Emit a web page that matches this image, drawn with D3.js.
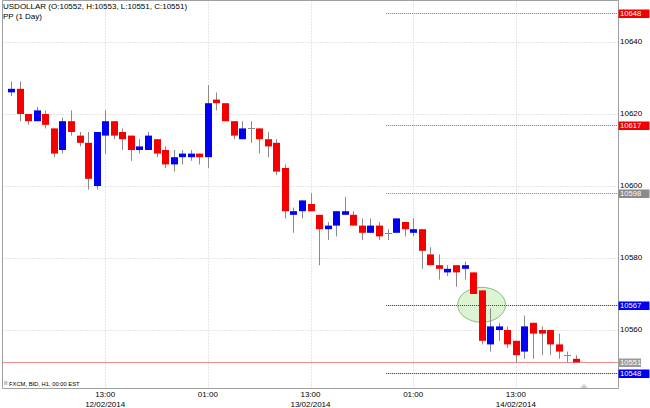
<!DOCTYPE html>
<html><head><meta charset="utf-8">
<script src="https://cdn.jsdelivr.net/npm/d3@7"></script>
<style>
html,body{margin:0;padding:0;background:#fff;}
svg{display:block;font-family:"Liberation Sans",Arial,Helvetica,sans-serif;}
</style></head>
<body>
<svg id="c" width="650" height="408"></svg>
<script>
// ---- data ----
const title = "USDOLLAR (O:10552, H:10553, L:10551, C:10551)";
const subtitle = "PP (1 Day)";
const footnote = "FXCM, BID, H1, 00:00 EST";
const firstBar = "2014-02-12T02:00";   // hourly bars
const open  = [10626,10627,10620,10618,10620,10616,10610,10618,10614,10612,10600,10614,10618,10615,10614,10610,10610,10613,10610,10606,10608,10608,10609,10608,10624,10623,10618,10613,10616,10616,10613,10612,10605,10592,10593,10595,10592,10588,10589,10592,10592,10589,10587,10589,10587,10587,10590,10587,10588,10581,10578,10576,10578,10577,10576,10571,10556,10560,10560,10557,10554,10562,10560,10560,10556,10553,10552];
const high  = [10629,10629,10620,10622,10621,10616,10619,10621,10615,10615,10615,10621,10618,10616,10614,10613,10615,10613,10611,10610,10610,10610,10609,10628,10626,10623,10618,10618,10618,10616,10615,10613,10606,10594,10596,10598,10592,10590,10593,10597,10593,10591,10591,10590,10588,10591,10590,10591,10588,10583,10581,10578,10578,10579,10576,10571,10566,10562,10561,10557,10564,10562,10561,10560,10559,10554,10553];
const low   = [10625,10618,10617,10618,10616,10608,10609,10614,10611,10599,10599,10609,10613,10610,10607,10609,10610,10608,10605,10604,10606,10607,10606,10605,10621,10618,10613,10613,10612,10609,10608,10603,10591,10587,10591,10593,10578,10585,10586,10592,10589,10585,10587,10585,10585,10587,10586,10586,10577,10578,10574,10575,10572,10574,10570,10556,10554,10557,10555,10551,10552,10552,10553,10553,10552,10551,10551];
const close = [10627,10620,10618,10621,10617,10609,10618,10615,10612,10602,10615,10618,10614,10613,10610,10611,10614,10609,10606,10608,10609,10609,10608,10623,10623,10618,10614,10616,10616,10613,10611,10604,10593,10593,10596,10593,10588,10589,10593,10593,10589,10587,10589,10586,10587,10591,10588,10588,10582,10578,10577,10577,10576,10578,10570,10557,10561,10561,10556,10553,10561,10559,10559,10556,10554,10553,10551];
const yTicks = [10560, 10580, 10600, 10620, 10640];
const xTicks = ["2014-02-12T13:00","2014-02-13T01:00","2014-02-13T13:00","2014-02-14T01:00","2014-02-14T13:00"];
const pivotLevels = [10648, 10617, 10598, 10567, 10548];
const pivotStart = "2014-02-13T21:51";
const lastPrice = 10551;
const highlight = {time:"2014-02-14T09:00", value:10567};

// ---- styles ----
const pivotStyle = [
  {line:"#f26a6a", tint:"#fbdcdc", box:"#f00000"},
  {line:"#f26a6a", tint:"#fbdcdc", box:"#f00000"},
  {line:"#959595", tint:"#e8e8e8", box:"#8a8a8a"},
  {line:"#3a3ad8", tint:"#d8d8f6", box:"#0000f0"},
  {line:"#3a3ad8", tint:"#d8d8f6", box:"#0000f0"}
];
const UP = "#0000f5", DOWN = "#f50000", WICK = "#8a8a8a";

const parse = d3.timeParse("%Y-%m-%dT%H:%M");
const t0 = parse(firstBar);
const bars = open.map((o,i)=>({t:d3.timeHour.offset(t0,i),o,h:high[i],l:low[i],c:close[i]}));

const L=2.5, R=618.5, T=0.5, B=388.5;
const svg = d3.select("#c");

const x = d3.scaleTime()
  .domain([d3.timeMinute.offset(t0,-60), d3.timeMinute.offset(t0,71*60)])
  .range([L,R]);
const y = d3.scaleLinear().domain([10543.75,10651.53]).range([B,T]);

// gridlines
const g = svg.append("g");
g.selectAll("line.hg").data(yTicks).join("line").attr("class","hg")
  .attr("x1",L).attr("x2",R).attr("y1",d=>Math.round(y(d))+0.5).attr("y2",d=>Math.round(y(d))+0.5)
  .attr("stroke","#cccccc").attr("stroke-dasharray","1,2");
g.selectAll("line.vg").data(xTicks.map(parse)).join("line").attr("class","vg")
  .attr("x1",d=>Math.round(x(d))+0.5).attr("x2",d=>Math.round(x(d))+0.5).attr("y1",T).attr("y2",B)
  .attr("stroke","#cccccc").attr("stroke-dasharray","1,2");

// highlight ellipse
const ht = parse(highlight.time);
svg.append("ellipse")
  .attr("cx",x(ht)).attr("cy",y(highlight.value))
  .attr("rx",x(d3.timeMinute.offset(ht,168))-x(ht))
  .attr("ry",y(highlight.value)-y(highlight.value+4.85))
  .attr("fill","#ddf4d3").attr("stroke","#80bf80").attr("stroke-width",1);

// last price line
svg.append("line").attr("x1",L).attr("x2",R)
  .attr("y1",Math.round(y(lastPrice))+0.5).attr("y2",Math.round(y(lastPrice))+0.5)
  .attr("stroke","#ec8c8c").attr("stroke-width",1);

// pivot lines (light tint underneath, dots on top)
const ps = Math.round(x(parse(pivotStart)));
const pg = svg.append("g");
pivotLevels.forEach((v,i)=>{
  const yy = Math.round(y(v));
  pg.append("line").attr("x1",ps).attr("x2",R-0.5).attr("y1",yy+0.5).attr("y2",yy+0.5)
    .style("stroke",pivotStyle[i].tint).style("stroke-width","1px").style("shape-rendering","crispEdges");
  pg.append("line").attr("x1",ps).attr("x2",R-0.5).attr("y1",yy+0.5).attr("y2",yy+0.5)
    .style("stroke",pivotStyle[i].line).style("stroke-width","1px")
    .style("stroke-dasharray","1,1").style("shape-rendering","crispEdges");
});

// candles
const cg = svg.append("g");
const bw = 7;
bars.forEach(b=>{
  const cx = Math.round(x(b.t));
  cg.append("line").attr("x1",cx+0.5).attr("x2",cx+0.5)
    .attr("y1",y(b.h)).attr("y2",y(b.l)).attr("stroke",WICK).attr("stroke-width",1);
  if (b.o===b.c){
    cg.append("line").attr("x1",cx-3).attr("x2",cx+4)
      .attr("y1",Math.round(y(b.o))+0.5).attr("y2",Math.round(y(b.o))+0.5)
      .attr("stroke",WICK);
  } else {
    const top = y(Math.max(b.o,b.c)), bot = y(Math.min(b.o,b.c));
    cg.append("rect").attr("x",cx-3).attr("width",bw)
      .attr("y",top).attr("height",Math.max(1,bot-top))
      .attr("fill",b.c>b.o?UP:DOWN);
  }
});

// frame
svg.append("path")
  .attr("d",`M${L},${B}V${T}H${R}V${B}H${L}`)
  .attr("fill","none").attr("stroke","#a0a0a0");

// small scroll triangle
svg.append("path").attr("d","M580,388 L584,384 L588,388 Z").attr("fill","#d0d0d0");

// right axis tick labels
svg.selectAll("text.yt").data(yTicks).join("text").attr("class","yt")
  .attr("x",620).attr("y",d=>y(d)-0.5).attr("dy","0.33em")
  .attr("font-size",8).attr("fill","#000").text(d=>d);

// pivot boxes
const pb = svg.append("g");
pivotLevels.forEach((v,i)=>{
  const yy = Math.round(y(v))+0.5;
  pb.append("rect").attr("x",618.5).attr("y",yy-4).attr("width",31).attr("height",8.5)
    .attr("fill",pivotStyle[i].box);
  pb.append("text").attr("x",620).attr("y",yy+0.3).attr("dy","0.33em")
    .attr("font-size",7.6).attr("fill","#fff").text(v);
});
// last price box
const ly = Math.round(y(lastPrice))+0.5;
svg.append("rect").attr("x",619).attr("y",ly-4).attr("width",22).attr("height",8.5).attr("fill","#9a9a9a");
svg.append("text").attr("x",620).attr("y",ly+0.3).attr("dy","0.33em").attr("font-size",7.6).attr("fill","#fff").text(lastPrice);

// x axis labels
const fT = d3.timeFormat("%H:%M"), fD = d3.timeFormat("%d/%m/%Y");
xTicks.map(parse).forEach(d=>{
  svg.append("text").attr("x",x(d)).attr("y",397.3).attr("text-anchor","middle")
    .attr("font-size",8).attr("fill","#000").text(fT(d));
  if (d.getHours()===13){
    svg.append("text").attr("x",x(d)).attr("y",407).attr("text-anchor","middle")
      .attr("font-size",8).attr("fill","#000").text(fD(d));
  }
});

// titles
svg.append("text").attr("x",3).attr("y",8.6).attr("font-size",8).attr("fill","#000").text(title);
svg.append("text").attr("x",3).attr("y",18.6).attr("font-size",8).attr("fill","#000").text(subtitle);

// footnote with icon
svg.append("rect").attr("x",4).attr("y",381).attr("width",3.5).attr("height",4).attr("fill","#c8c8c8");
svg.append("text").attr("x",9).attr("y",385.5).attr("font-size",5.8).attr("fill","#000").text(footnote);
</script>
</body></html>
